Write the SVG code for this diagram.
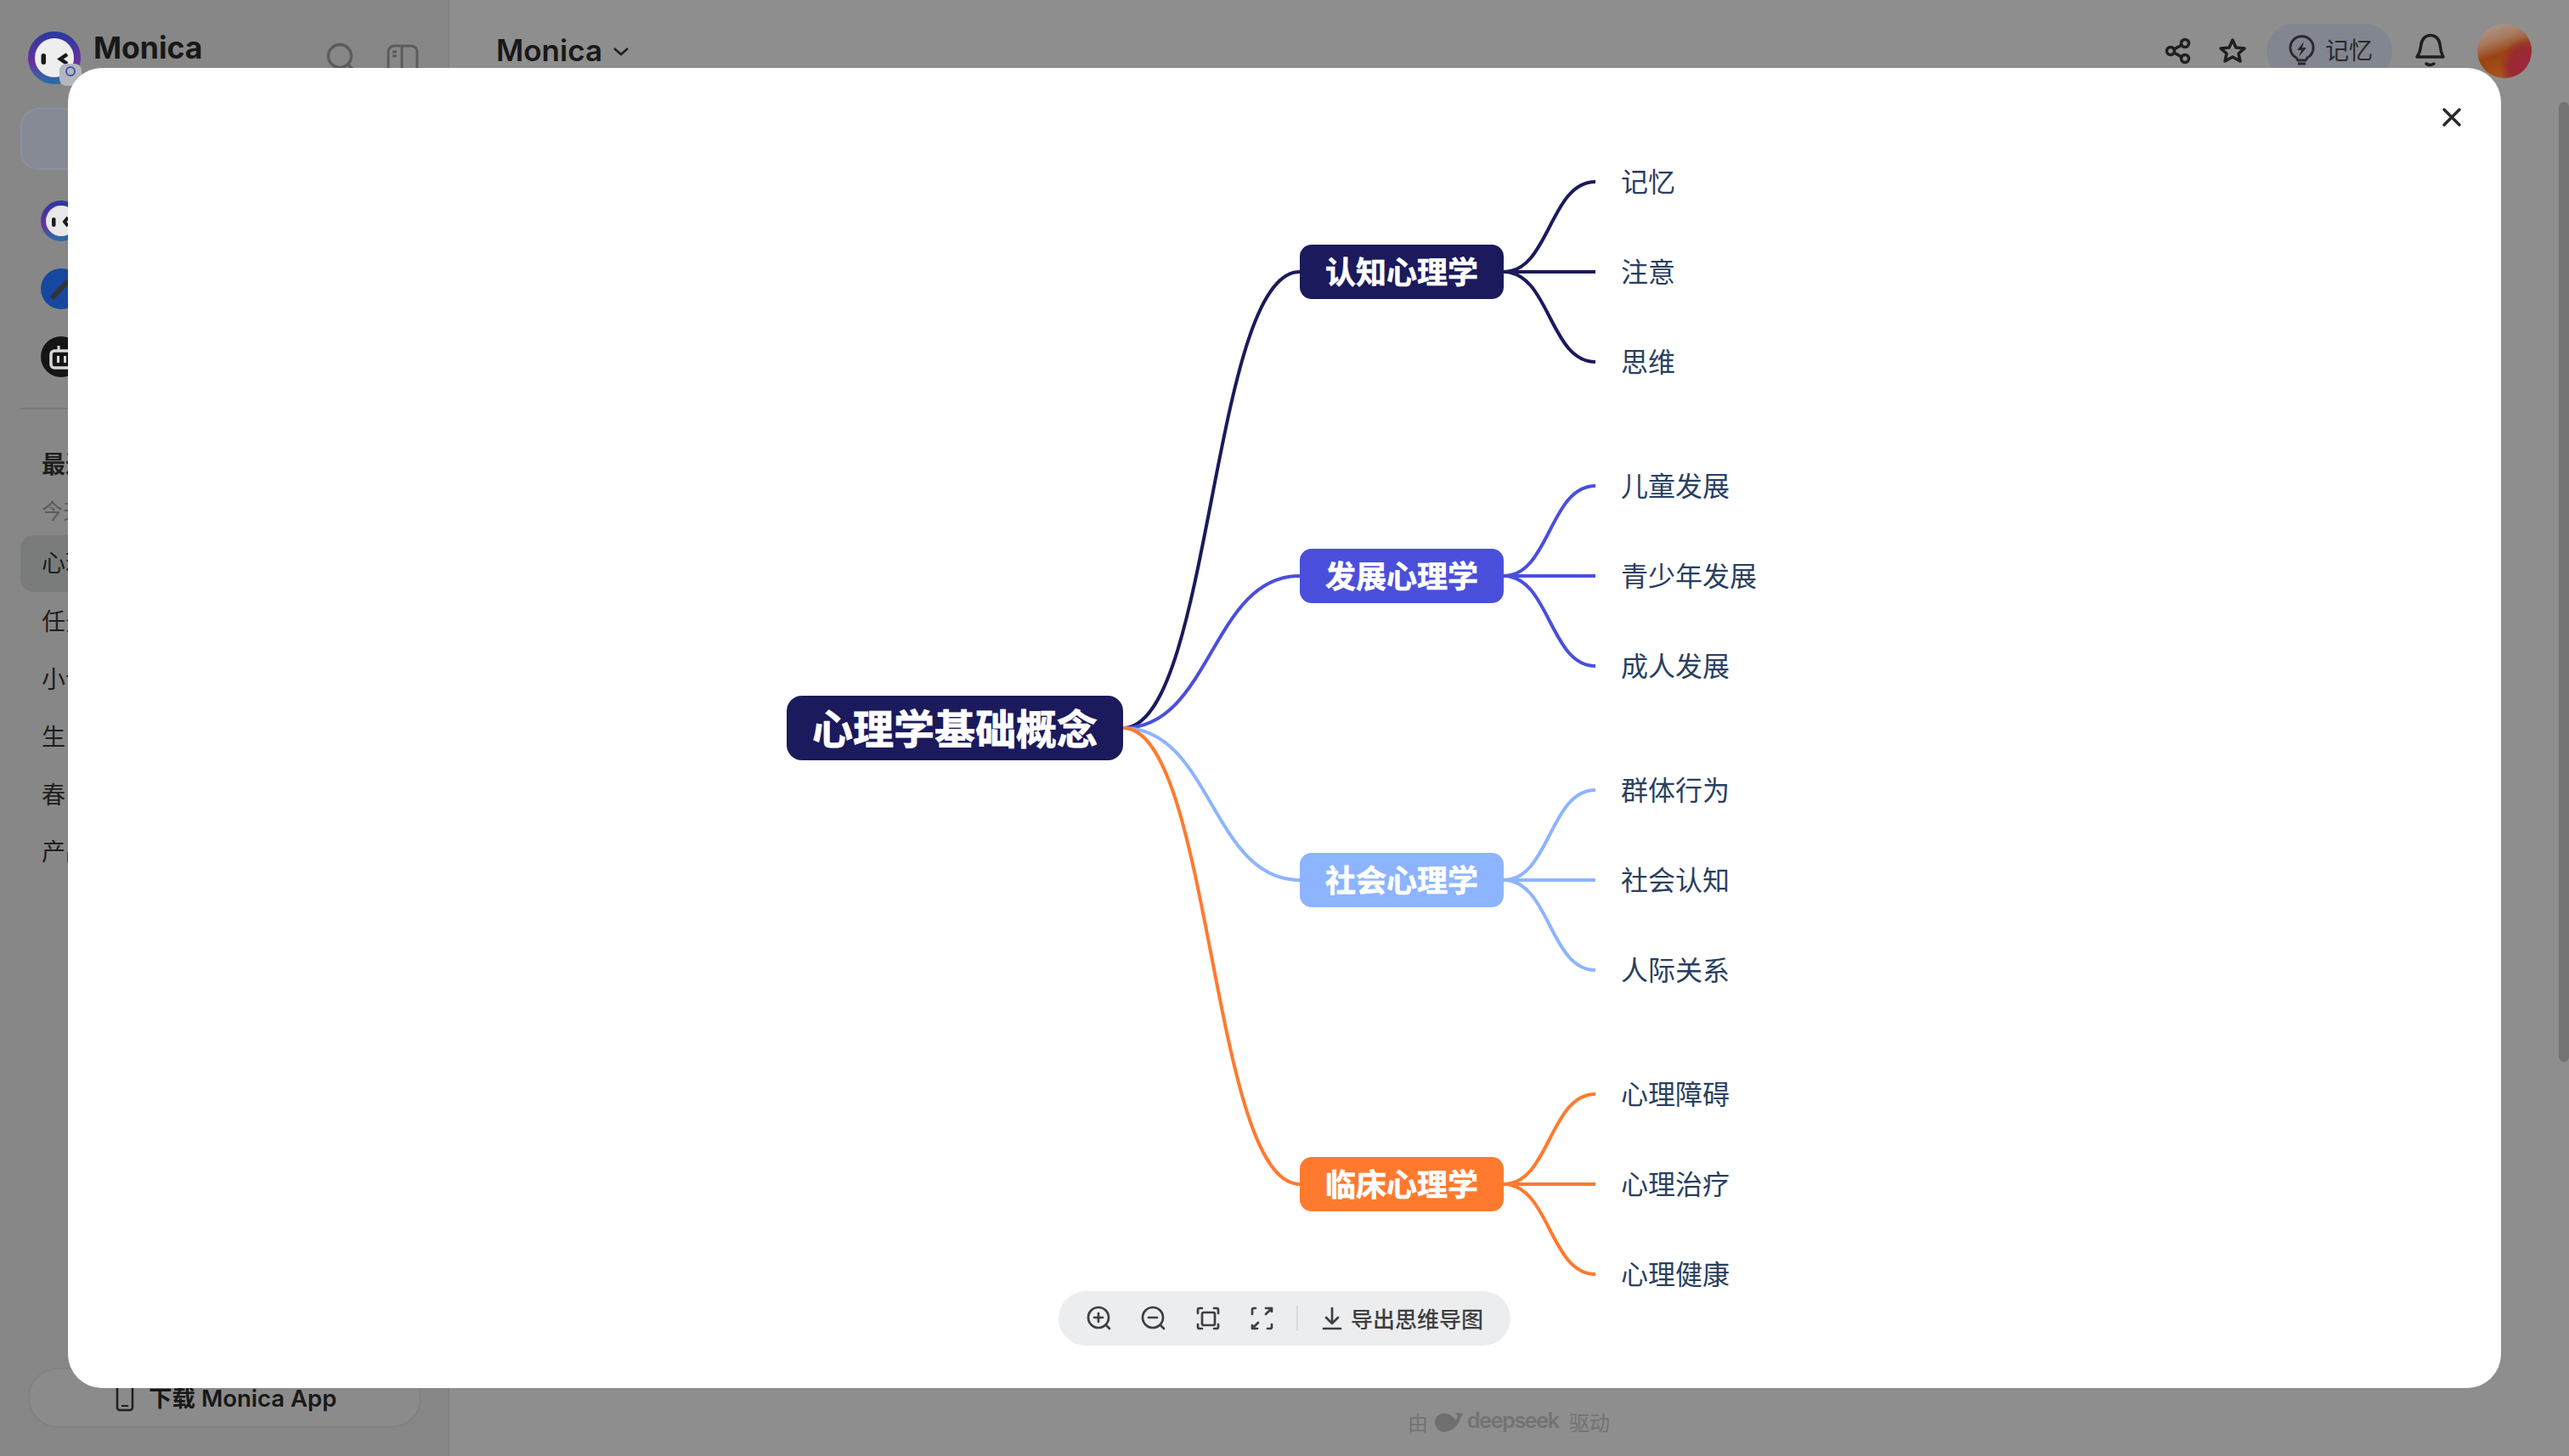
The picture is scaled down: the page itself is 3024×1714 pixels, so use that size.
<svg xmlns="http://www.w3.org/2000/svg" width="3024" height="1714" viewBox="0 0 3024 1714">
<defs>
<linearGradient id="ring" x1="0.5" y1="0" x2="0.5" y2="1"><stop offset="0" stop-color="#2d3a9e"/><stop offset="0.6" stop-color="#6a2f9e"/><stop offset="1" stop-color="#2a6aa8"/></linearGradient>
<linearGradient id="avatar" x1="0.25" y1="0" x2="0.6" y2="1"><stop offset="0" stop-color="#ab9a90"/><stop offset="0.3" stop-color="#a8785c"/><stop offset="0.55" stop-color="#9a4312"/><stop offset="1" stop-color="#a85a1c"/></linearGradient>
<radialGradient id="avatar2" cx="0.95" cy="0.8" r="0.55"><stop offset="0" stop-color="#9c2844"/><stop offset="0.65" stop-color="#9a2a30"/><stop offset="1" stop-color="#9a2a30" stop-opacity="0"/></radialGradient>
</defs>
<style>
text{font-family:"Inter","Noto Sans CJK SC","Liberation Sans",sans-serif}
.cjk{font-family:"Noto Sans CJK SC","Noto Sans",sans-serif}
.side{font-size:28px;fill:#1e1e1e;dominant-baseline:central}
.ic{fill:none;stroke:#1f1f1f;stroke-width:3.5;stroke-linecap:round;stroke-linejoin:round}
.tb{fill:none;stroke:#3f3f42;stroke-width:2.700;stroke-linecap:round;stroke-linejoin:round}
.root{font-size:48px;font-weight:700;fill:#fff;stroke:#fff;stroke-width:.8;text-anchor:middle;dominant-baseline:central}
.mid{font-size:36px;font-weight:700;fill:#fff;stroke:#fff;stroke-width:.6;text-anchor:middle;dominant-baseline:central}
.leaf{font-size:32px;fill:#2a3f5f;dominant-baseline:central}
.lnk{fill:none;stroke-width:4}
.c1{stroke:#1b1a5c}.c2{stroke:#4a4fdb}.c3{stroke:#8db4ff}.c4{stroke:#ff7a2e}
</style>
<g id="background">
<rect width="3024" height="1714" fill="#8e8e8e"/>
<rect width="527" height="1714" fill="#878787"/>
<rect x="527" width="2" height="1714" fill="#828282"/>
<rect x="3012" y="120" width="12" height="1130" rx="6" fill="#737373"/>
</g>
<g id="sidebar">
<circle cx="64" cy="68" r="27" fill="#eeeeee" stroke="url(#ring)" stroke-width="8"/>
<rect x="48.500" y="63" width="5.500" height="13" rx="2.750" fill="#1a1a1a"/>
<path d="M79 64 L71 69.500 L79 75" fill="none" stroke="#1a1a1a" stroke-width="4.500"/>
<rect x="70" y="75" width="26" height="26" rx="8" fill="#b4b7bf"/>
<circle cx="83" cy="84" r="5" fill="none" stroke="#3f56b0" stroke-width="2"/>
<text x="110" y="69" font-size="35.500" font-weight="700" fill="#181818">Monica</text>
<circle cx="400" cy="66" r="13.500" fill="none" stroke="#5c5c60" stroke-width="3.500"/>
<path d="M410 76 L417 84" fill="none" stroke="#5c5c60" stroke-width="3.500"/>
<rect x="457" y="54" width="34" height="32" rx="7" fill="none" stroke="#5c5c60" stroke-width="3"/>
<path d="M473 54V86M462 61H467M462 66H467" fill="none" stroke="#5c5c60" stroke-width="3"/>
<rect x="25" y="128" width="200" height="71" rx="20" fill="#858a95" stroke="#8a91a2" stroke-width="2"/>
<circle cx="72" cy="260" r="21" fill="#e8e8e8" stroke="url(#ring)" stroke-width="6"/>
<rect x="61" y="256" width="4.500" height="11" rx="2.250" fill="#1a1a1a"/>
<path d="M80 256 L76 261 L80 266" fill="none" stroke="#1a1a1a" stroke-width="4"/>
<circle cx="72" cy="340" r="24" fill="#1648a0"/>
<path d="M61 351 L80 331" stroke="#333" stroke-width="6" fill="none"/>
<circle cx="72" cy="420" r="24" fill="#151515"/>
<path d="M69 413V407" stroke="#d8d8d8" stroke-width="3"/>
<rect x="60" y="413" width="30" height="20" rx="4" fill="none" stroke="#d8d8d8" stroke-width="3.500"/>
<rect x="67" y="419" width="3" height="8" fill="#d8d8d8"/>
<rect x="75" y="419" width="3" height="8" fill="#d8d8d8"/>
<rect x="24" y="480" width="120" height="2" fill="#7a7a7a"/>
<text class="side cjk" x="49" y="545" font-weight="700">最近</text>
<text class="cjk" x="49" y="600" font-size="25" fill="#5c5c5c" dominant-baseline="central">今天</text>
<rect x="24" y="630" width="200" height="67" rx="16" fill="#7a7c7c"/>
<text class="side cjk" x="49" y="661">心理</text>
<text class="side cjk" x="49" y="730">任务</text>
<text class="side cjk" x="49" y="798">小说</text>
<text class="side cjk" x="49" y="866">生</text>
<text class="side cjk" x="49" y="934">春</text>
<text class="side cjk" x="49" y="1001">产品</text>
<rect x="34" y="1611" width="461" height="69" rx="34" fill="#8b8b8b" stroke="#828282" stroke-width="2"/>
<rect x="138" y="1620" width="18" height="40" rx="3" fill="none" stroke="#1f1f1f" stroke-width="2.500"/>
<path d="M143 1655H151" stroke="#1f1f1f" stroke-width="2"/>
<text x="175" y="1656" font-size="27.500" font-weight="600" fill="#181818">下载 Monica App</text>
</g>
<g id="topbar">
<text x="584" y="72" font-size="35" font-weight="600" fill="#181818">Monica</text>
<path d="M723 57 L731 64 L739 57" fill="none" stroke="#1f1f1f" stroke-width="2.500"/>
<g class="ic">
<circle cx="2555" cy="60" r="4.500"/><circle cx="2572" cy="51" r="4.500"/><circle cx="2572" cy="69" r="4.500"/>
<path d="M2559 58 L2568 53M2559 62 L2568 67"/>
<path d="M2628 47 L2632 56 L2642 57 L2635 63 L2637 72 L2628 67 L2619 72 L2621 63 L2614 57 L2624 56Z"/>
</g>
<rect x="2668" y="28" width="148" height="64" rx="32" fill="#828691"/>
<g fill="none" stroke="#2a2a2a" stroke-width="3">
<path d="M2703 68 A13.500 13.500 0 1 1 2716 68 L2714 71 H2705Z"/><path d="M2705 75H2714"/>
</g>
<path d="M2712 49 L2704 59 H2709 L2706 67 L2715 56 H2710Z" fill="#2a2a2a"/>
<text class="cjk" x="2737" y="58" font-size="28" fill="#2a2a2a" dominant-baseline="central">记忆</text>
<path class="ic" d="M2845 67 C2850 60 2849 56 2850 52 C2852 38 2870 38 2872 52 C2873 56 2872 60 2876 67Z"/>
<path class="ic" d="M2856 75 Q2860 78 2865 75"/>
<circle cx="2948" cy="60" r="32" fill="url(#avatar)"/>
<circle cx="2948" cy="60" r="32" fill="url(#avatar2)"/>
</g>
<g id="footer">
<text class="cjk" x="1657" y="1673" font-size="24" fill="#737373" dominant-baseline="central">由</text>
<path d="M1689 1674 C1690 1662 1704 1661 1710 1668 L1714 1672 L1716 1666 L1712 1663 L1722 1664 L1718 1672 C1714 1684 1698 1690 1692 1682 C1690 1679 1689 1677 1689 1674Z" fill="#6f6f6f"/>
<text x="1727" y="1672" font-size="25" font-weight="600" fill="#737373" dominant-baseline="central" textLength="109">deepseek</text>
<text class="cjk" x="1847" y="1673" font-size="24" fill="#737373" dominant-baseline="central">驱动</text>
</g>
<rect id="modal" x="80" y="80" width="2864" height="1554" rx="40" fill="#fff"/>
<g id="connectors">
<path class="lnk c1" d="M1322 857C1426 857 1426 320 1530 320"/>
<path class="lnk c2" d="M1322 857C1426 857 1426 678 1530 678"/>
<path class="lnk c3" d="M1322 857C1426 857 1426 1036 1530 1036"/>
<path class="lnk c4" d="M1322 857C1426 857 1426 1394 1530 1394"/>
<path class="lnk c1" d="M1770 320C1824 320 1824 214 1878 214M1770 320H1878M1770 320C1824 320 1824 426 1878 426"/>
<path class="lnk c2" d="M1770 678C1824 678 1824 572 1878 572M1770 678H1878M1770 678C1824 678 1824 784 1878 784"/>
<path class="lnk c3" d="M1770 1036C1824 1036 1824 930 1878 930M1770 1036H1878M1770 1036C1824 1036 1824 1142 1878 1142"/>
<path class="lnk c4" d="M1770 1394C1824 1394 1824 1288 1878 1288M1770 1394H1878M1770 1394C1824 1394 1824 1500 1878 1500"/>
</g>
<g id="root"><rect x="926" y="819" width="396" height="76" rx="18" fill="#1b1a5c"/><text class="root cjk" x="1124" y="855">心理学基础概念</text></g>
<g id="n1"><rect x="1530" y="288" width="240" height="64" rx="14" fill="#1b1a5c"/><text class="mid cjk" x="1650" y="318">认知心理学</text></g>
<g id="n2"><rect x="1530" y="646" width="240" height="64" rx="14" fill="#4a4fdb"/><text class="mid cjk" x="1650" y="676">发展心理学</text></g>
<g id="n3"><rect x="1530" y="1004" width="240" height="64" rx="14" fill="#8db4ff"/><text class="mid cjk" x="1650" y="1034">社会心理学</text></g>
<g id="n4"><rect x="1530" y="1362" width="240" height="64" rx="14" fill="#ff7a2e"/><text class="mid cjk" x="1650" y="1392">临床心理学</text></g>
<g id="l11"><text class="leaf cjk" x="1908" y="212">记忆</text></g>
<g id="l12"><text class="leaf cjk" x="1908" y="318">注意</text></g>
<g id="l13"><text class="leaf cjk" x="1908" y="424">思维</text></g>
<g id="l21"><text class="leaf cjk" x="1908" y="570">儿童发展</text></g>
<g id="l22"><text class="leaf cjk" x="1908" y="676">青少年发展</text></g>
<g id="l23"><text class="leaf cjk" x="1908" y="782">成人发展</text></g>
<g id="l31"><text class="leaf cjk" x="1908" y="928">群体行为</text></g>
<g id="l32"><text class="leaf cjk" x="1908" y="1034">社会认知</text></g>
<g id="l33"><text class="leaf cjk" x="1908" y="1140">人际关系</text></g>
<g id="l41"><text class="leaf cjk" x="1908" y="1286">心理障碍</text></g>
<g id="l42"><text class="leaf cjk" x="1908" y="1392">心理治疗</text></g>
<g id="l43"><text class="leaf cjk" x="1908" y="1498">心理健康</text></g>
<g id="close"><path d="M2877 129L2895 147M2895 129L2877 147" fill="none" stroke="#2a2a2a" stroke-width="3.500" stroke-linecap="round"/></g>
<g id="toolbar">
<rect x="1246" y="1520" width="532" height="64" rx="32" fill="#ecedef"/>
<g class="tb">
<circle cx="1293" cy="1551" r="12"/><path d="M1302 1560L1306 1564M1288 1551H1298M1293 1546V1556"/>
<circle cx="1357" cy="1551" r="12"/><path d="M1366 1560L1370 1564M1352 1551H1362"/>
<rect x="1415" y="1545" width="15" height="15" rx="2"/>
<path d="M1410 1546V1542Q1410 1540 1412 1540H1415M1429 1540H1432Q1434 1540 1434 1542V1546M1434 1559V1562Q1434 1564 1432 1564H1429M1415 1564H1412Q1410 1564 1410 1562V1559"/>
<path d="M1474 1547V1542Q1474 1540 1476 1540H1478M1490 1540H1497V1544M1497 1540L1490 1547M1497 1559V1562Q1497 1564 1495 1564H1492M1480 1564H1474V1560M1474 1564L1481 1557"/>
<path d="M1568 1540V1558M1561 1551L1568 1558L1575 1551M1558 1564H1578"/>
</g>
<rect x="1526" y="1537" width="2" height="30" fill="#d8d9db"/>
<text class="cjk" x="1590" y="1551" font-size="26" font-weight="500" fill="#3f3f42" dominant-baseline="central">导出思维导图</text>
</g>
</svg>
